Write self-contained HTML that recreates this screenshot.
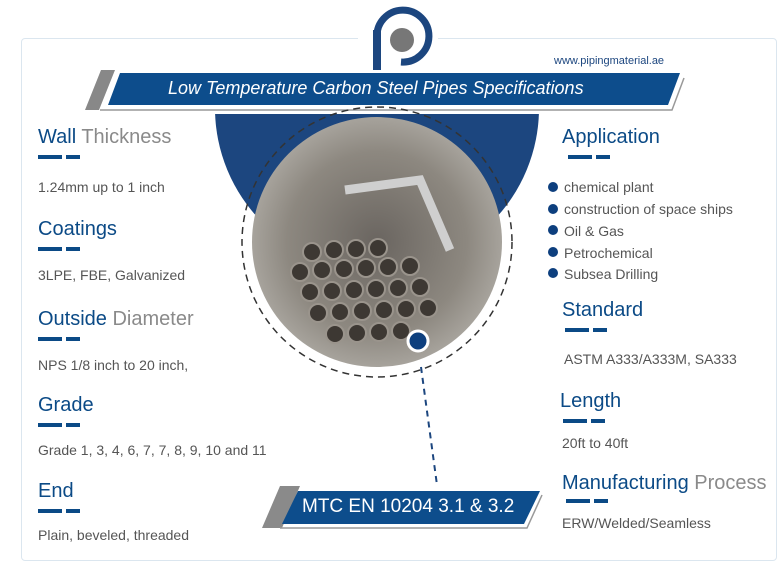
<!DOCTYPE html>
<html><head><style>
body{margin:0;width:780px;height:578px;background:#fff;font-family:"Liberation Sans",sans-serif;position:relative;overflow:hidden}
.a{position:absolute;white-space:nowrap}
.h{font-size:20px;color:#0b4a86}
.h span{color:#8a8a8a}
.t{font-size:14px;color:#555}
.d{position:absolute;height:4px;background:#0b4a86}
</style></head><body>
<div class="a" style="left:21px;top:38px;width:754px;height:521px;border:1px solid #dbe6ef;border-radius:4px"></div>
<div class="a" style="left:358px;top:30px;width:80px;height:20px;background:#fff"></div>
<svg class="a" style="left:0;top:0" width="780" height="578">
<clipPath id="c"><rect x="0" y="114" width="780" height="300"/></clipPath>
<circle cx="377" cy="108" r="162" fill="#1c467f" clip-path="url(#c)"/>
<!-- logo -->
<path d="M377 70 L377 38 A26 26 0 1 1 401 62" fill="none" stroke="#1c467f" stroke-width="7"/>
<rect x="373" y="30" width="8" height="40" fill="#1c467f"/>
<circle cx="402" cy="40" r="12" fill="#777"/>
<!-- title banner -->
<polygon points="85,110 101,70 115,70 99,110" fill="#888"/>
<polygon points="108,105 120,73 680,73 668,105" fill="#0d4d8c"/>
<polyline points="100,110 672,110 684,78" fill="none" stroke="#999" stroke-width="1.5"/>
<circle cx="377" cy="242" r="135" fill="none" stroke="#333" stroke-width="1.5" stroke-dasharray="7,5"/>
<defs><radialGradient id="g" cx="0.5" cy="0.5" r="0.6"><stop offset="0" stop-color="#6a6560"/><stop offset="0.6" stop-color="#8d8880"/><stop offset="1" stop-color="#b9b6b0"/></radialGradient></defs>
<circle cx="377" cy="242" r="125" fill="url(#g)"/>
<path d="M345 190 L420 180 L450 250" fill="none" stroke="#cfcfcf" stroke-width="9"/>
<g fill="#3d3833" stroke="#9a948c" stroke-width="2">
<circle cx="312" cy="252" r="9"/><circle cx="334" cy="250" r="9"/><circle cx="356" cy="249" r="9"/><circle cx="378" cy="248" r="9"/>
<circle cx="300" cy="272" r="9"/><circle cx="322" cy="270" r="9"/><circle cx="344" cy="269" r="9"/><circle cx="366" cy="268" r="9"/><circle cx="388" cy="267" r="9"/><circle cx="410" cy="266" r="9"/>
<circle cx="310" cy="292" r="9"/><circle cx="332" cy="291" r="9"/><circle cx="354" cy="290" r="9"/><circle cx="376" cy="289" r="9"/><circle cx="398" cy="288" r="9"/><circle cx="420" cy="287" r="9"/>
<circle cx="318" cy="313" r="9"/><circle cx="340" cy="312" r="9"/><circle cx="362" cy="311" r="9"/><circle cx="384" cy="310" r="9"/><circle cx="406" cy="309" r="9"/><circle cx="428" cy="308" r="9"/>
<circle cx="335" cy="334" r="9"/><circle cx="357" cy="333" r="9"/><circle cx="379" cy="332" r="9"/><circle cx="401" cy="331" r="9"/>
</g>
<circle cx="418" cy="341" r="10" fill="#0d3f7e" stroke="#fff" stroke-width="3"/>
<line x1="421" y1="367" x2="437" y2="485" stroke="#1c467f" stroke-width="2" stroke-dasharray="6,5"/>
<!-- MTC banner -->
<polygon points="262,528 280,486 300,486 282,528" fill="#8a8a8a"/>
<polygon points="282,524 298,491 540,491 524,524" fill="#0d4d8c"/>
<polyline points="280,528 527,528 542,495" fill="none" stroke="#999" stroke-width="1.5"/>
<g fill="#0d3f7e"><circle cx="553" cy="187" r="5"/><circle cx="553" cy="209" r="5"/><circle cx="553" cy="230" r="5"/><circle cx="553" cy="252" r="5"/><circle cx="553" cy="273" r="5"/></g>
</svg>
<div class="a" style="left:554px;top:55px;font-size:11px;color:#1c467f">www.pipingmaterial.ae</div>
<div class="a" style="left:168px;top:78px;font-size:18px;color:#fff;font-style:italic">Low Temperature Carbon Steel Pipes Specifications</div>
<div class="a" style="left:302px;top:496px;font-size:19px;color:#fff">MTC EN 10204 3.1 &amp; 3.2</div>

<div class="a h" style="left:38px;top:126px">Wall <span>Thickness</span></div>
<div class="d" style="left:38px;top:155px;width:24px"></div><div class="d" style="left:66px;top:155px;width:14px"></div>
<div class="a t" style="left:38px;top:179px">1.24mm up to 1 inch</div>
<div class="a h" style="left:38px;top:218px">Coatings</div>
<div class="d" style="left:38px;top:247px;width:24px"></div><div class="d" style="left:66px;top:247px;width:14px"></div>
<div class="a t" style="left:38px;top:267px">3LPE, FBE, Galvanized</div>
<div class="a h" style="left:38px;top:308px">Outside <span>Diameter</span></div>
<div class="d" style="left:38px;top:337px;width:24px"></div><div class="d" style="left:66px;top:337px;width:14px"></div>
<div class="a t" style="left:38px;top:357px">NPS 1/8 inch to 20 inch,</div>
<div class="a h" style="left:38px;top:394px">Grade</div>
<div class="d" style="left:38px;top:423px;width:24px"></div><div class="d" style="left:66px;top:423px;width:14px"></div>
<div class="a t" style="left:38px;top:442px">Grade 1, 3, 4, 6, 7, 7, 8, 9, 10 and 11</div>
<div class="a h" style="left:38px;top:480px">End</div>
<div class="d" style="left:38px;top:509px;width:24px"></div><div class="d" style="left:66px;top:509px;width:14px"></div>
<div class="a t" style="left:38px;top:527px">Plain, beveled, threaded</div>

<div class="a h" style="left:562px;top:126px">Application</div>
<div class="d" style="left:568px;top:155px;width:24px"></div><div class="d" style="left:596px;top:155px;width:14px"></div>
<div class="a t" style="left:564px;top:179px">chemical plant</div>
<div class="a t" style="left:564px;top:201px">construction of space ships</div>
<div class="a t" style="left:564px;top:223px">Oil &amp; Gas</div>
<div class="a t" style="left:564px;top:245px">Petrochemical</div>
<div class="a t" style="left:564px;top:266px">Subsea Drilling</div>
<div class="a h" style="left:562px;top:299px">Standard</div>
<div class="d" style="left:565px;top:328px;width:24px"></div><div class="d" style="left:593px;top:328px;width:14px"></div>
<div class="a t" style="left:564px;top:351px">ASTM A333/A333M, SA333</div>
<div class="a h" style="left:560px;top:390px">Length</div>
<div class="d" style="left:563px;top:419px;width:24px"></div><div class="d" style="left:591px;top:419px;width:14px"></div>
<div class="a t" style="left:562px;top:435px">20ft to 40ft</div>
<div class="a h" style="left:562px;top:472px">Manufacturing <span>Process</span></div>
<div class="d" style="left:566px;top:499px;width:24px"></div><div class="d" style="left:594px;top:499px;width:14px"></div>
<div class="a t" style="left:562px;top:515px">ERW/Welded/Seamless</div>
</body></html>
